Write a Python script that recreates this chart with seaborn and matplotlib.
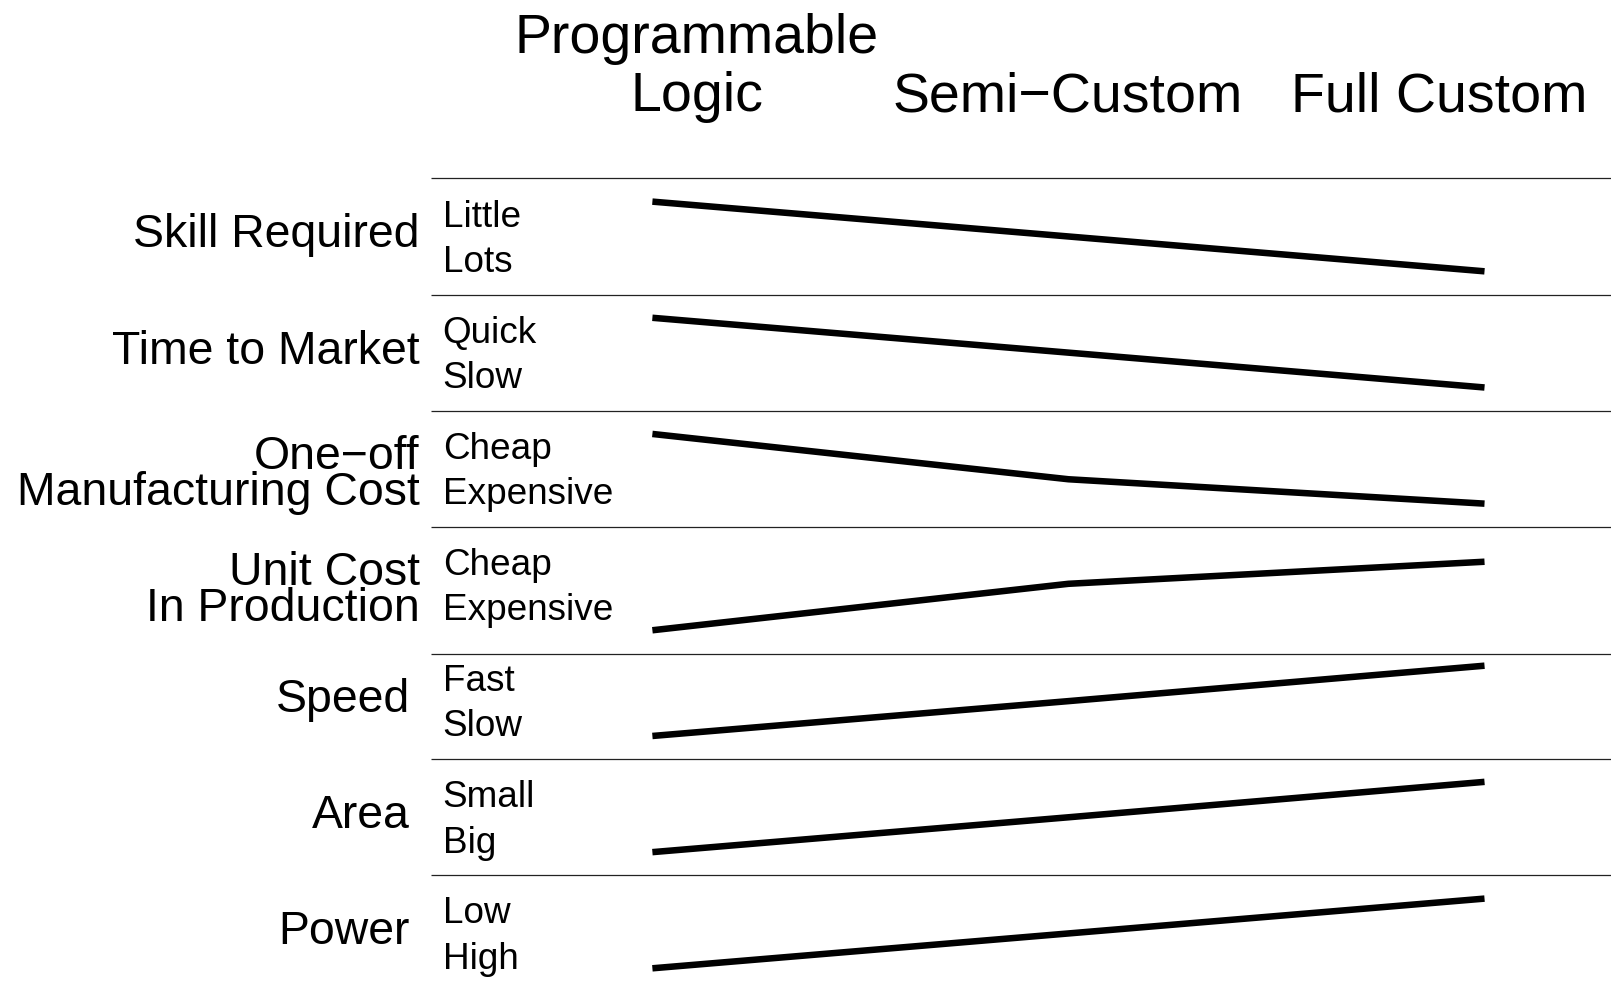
import numpy as np
import pandas as pd
import matplotlib
matplotlib.use("Agg")
import matplotlib.pyplot as plt
import seaborn as sns

# design styles (columns) and the criteria (rows)
styles = ["Programmable\nLogic", "Semi\u2212Custom", "Full Custom"]
criteria = ["Skill Required", "Time to Market", "One\u2212off\nManufacturing Cost",
            "Unit Cost\nIn Production", "Speed", "Area", "Power"]
top_words = ["Little", "Quick", "Cheap", "Cheap", "Fast", "Small", "Low"]
bottom_words = ["Lots", "Slow", "Expensive", "Expensive", "Slow", "Big", "High"]

# position of each style inside its row, 0 = top word, 1 = bottom word
skill = [0.20, 0.50, 0.80]
time_to_market = [0.20, 0.50, 0.80]
oneoff_cost = [0.20, 0.59, 0.80]
unit_cost = [0.89, 0.49, 0.30]
speed = [0.80, 0.50, 0.195]
area = [0.80, 0.50, 0.195]
power = [0.80, 0.50, 0.20]
values = [skill, time_to_market, oneoff_cost, unit_cost, speed, area, power]

# row separators (the one under unit cost sits a bit low in the original)
separators = [0, 1, 2, 3, 4.097, 5, 6]

rows = []
for i, vals in enumerate(values):
    for j, v in enumerate(vals):
        rows.append({"row": i, "style": j, "pos": i + v})
df = pd.DataFrame(rows)

sns.set_theme(style="white")
plt.rcParams['font.family'] = ['Liberation Sans', 'DejaVu Sans']
plt.rcParams['text.color'] = 'black'

fig = plt.figure(figsize=(16.11, 9.875), dpi=100)
ax = fig.add_axes([0, 0, 1, 1])

sns.lineplot(data=df, x="style", y="pos", units="row", estimator=None,
             sort=False, color="black", linewidth=4.7, ax=ax,
             solid_capstyle="butt")

ax.hlines(separators, -0.531, 2.5, color="#222222", linewidth=0.9)

# criteria names on the left
big = 33.4
small = 26.6
for i, name in enumerate(criteria):
    lines = name.split("\n")
    if len(lines) == 1:
        xr = -0.559 if len(name) > 6 else -0.583
        ax.text(xr, i + 0.59, name, ha="right", va="baseline", fontsize=big)
    else:
        ax.text(-0.559, i + 0.50, lines[0], ha="right", va="baseline", fontsize=big)
        ax.text(-0.559, i + 0.805, lines[1], ha="right", va="baseline", fontsize=big)
    ax.text(-0.504, i + 0.41, top_words[i], ha="left", va="baseline", fontsize=small)
    ax.text(-0.504, i + 0.80, bottom_words[i], ha="left", va="baseline", fontsize=small)

# column headers
header_x = [0.107, 0.998, 1.890]
for x, name in zip(header_x, styles):
    lines = name.split("\n")
    for k, ln in enumerate(reversed(lines)):
        ax.text(x, -0.584 - 0.497 * k, ln, ha="center", va="baseline", fontsize=40)

ax.set_xlim(-1.568, 2.304)
ax.set_ylim(6.961, -1.540)
ax.set_axis_off()
if ax.get_legend() is not None:
    ax.get_legend().remove()

fig.savefig("out.png", dpi=100)
